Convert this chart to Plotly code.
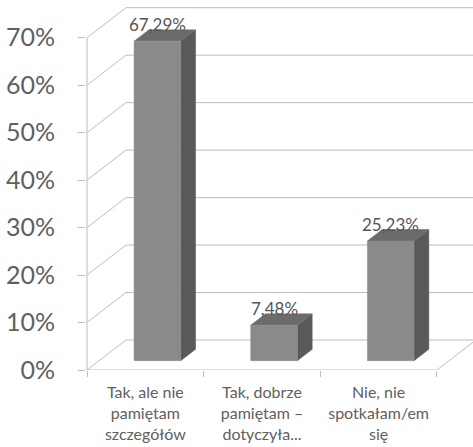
import plotly.graph_objects as go

# Survey answers and their shares (%)
categories = [
    "Tak, ale nie<br>pamiętam<br>szczegółów",
    "Tak, dobrze<br>pamiętam –<br>dotyczyła...",
    "Nie, nie<br>spotkałam/em<br>się",
]
values = [67.29, 7.48, 25.23]
y_ticks = [0, 10, 20, 30, 40, 50, 60, 70]

# Oblique projection used for the 3D look (depth vector in axis units)
DEPTH_X = 0.334   # category units
DEPTH_Y = 6.32    # percentage points
BAR_FRONT = 0.31  # depth fraction where the bar front face sits
BAR_DEPTH = 0.38  # bar thickness as a fraction of the full depth
BAR_WIDTH = 0.40  # bar width in category units

GRID = "#bdbdbd"
FRONT = "#8a8a8a"
TOP = "#6b6b6b"
SIDE = "#595959"
TEXT = "#606060"

X_MIN, X_MAX = -1 / 116.67, 3.309
Y_MAX = 77.94
n = len(categories)

fig = go.Figure()

# Walls: left-wall diagonals and back-wall horizontals for each gridline
gx, gy = [], []
for v in y_ticks:
    gx += [0, DEPTH_X, n + DEPTH_X + 0.5, None]
    gy += [v, v + DEPTH_Y, v + DEPTH_Y, None]
# Floor: front edge and right diagonal
gx += [0, n, n + DEPTH_X, None]
gy += [0, 0, DEPTH_Y, None]
# Vertical value axis
gx += [0, 0, None]
gy += [0, max(y_ticks), None]
fig.add_trace(go.Scatter(x=gx, y=gy, mode="lines",
                         line=dict(color=GRID, width=1),
                         hoverinfo="skip", showlegend=False))

# Bars drawn as three visible faces
fx = BAR_FRONT * DEPTH_X
fy = BAR_FRONT * DEPTH_Y
bx = BAR_DEPTH * DEPTH_X
by = BAR_DEPTH * DEPTH_Y
for i, v in enumerate(values):
    c = i + 0.5 + fx
    xl, xr = c - BAR_WIDTH / 2, c + BAR_WIDTH / 2
    y0, y1 = fy, fy + v
    faces = [
        ([xr, xr + bx, xr + bx, xr, xr], [y0, y0 + by, y1 + by, y1, y0], SIDE),
        ([xl, xr, xr + bx, xl + bx, xl], [y1, y1, y1 + by, y1 + by, y1], TOP),
        ([xl, xr, xr, xl, xl], [y0, y0, y1, y1, y0], FRONT),
    ]
    for px, py, col in faces:
        fig.add_trace(go.Scatter(x=px, y=py, mode="lines", fill="toself",
                                 fillcolor=col, line=dict(color=col, width=0.5),
                                 hoverinfo="skip", showlegend=False))
    fig.add_annotation(x=c, y=y1 + by, text=f"{v:.2f}".replace(".", ",") + "%",
                       showarrow=False, yanchor="bottom", yshift=-7,
                       font=dict(family="Lato", size=17, color="#555555"))

fig.update_layout(
    width=473, height=447,
    margin=dict(l=86, r=0, t=0, b=77),
    paper_bgcolor="white", plot_bgcolor="white",
    showlegend=False,
    xaxis=dict(
        range=[X_MIN, X_MAX],
        tickvals=[i + 0.5 for i in range(n)], ticktext=categories,
        ticks="", showgrid=False, zeroline=False, showline=False,
        tickfont=dict(family="Lato", size=16, color=TEXT),
        ticklabelstandoff=11,
        minor=dict(tickmode="array", tickvals=list(range(n + 1)),
                   ticks="outside", ticklen=6, tickcolor=GRID, showgrid=False),
    ),
    yaxis=dict(
        range=[0, Y_MAX],
        tickvals=y_ticks, ticktext=[f"{t}%" for t in y_ticks],
        ticks="outside", ticklen=7, tickcolor=GRID,
        showgrid=False, zeroline=False, showline=False,
        tickfont=dict(family="Lato", size=25, color=TEXT),
        ticklabelstandoff=18,
    ),
)

fig.write_html("out.html")
